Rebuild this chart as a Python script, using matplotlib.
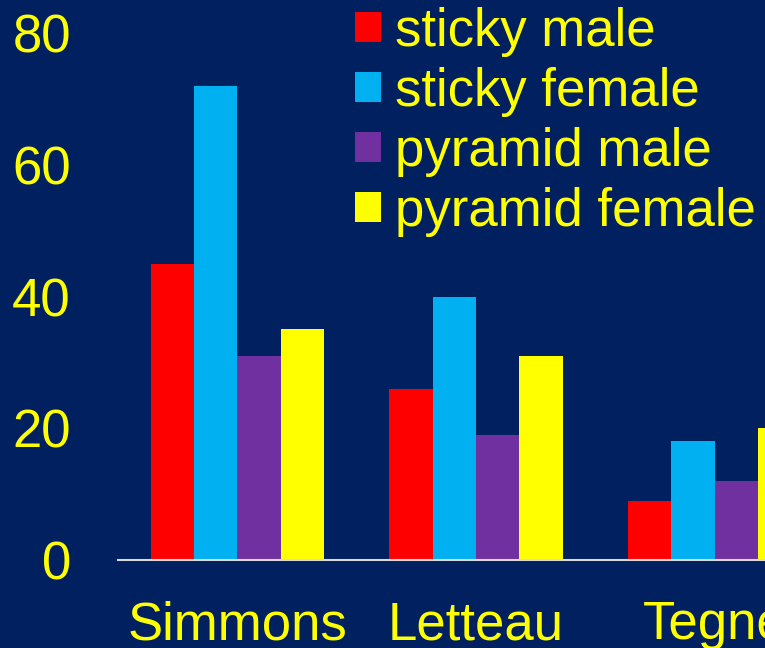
import numpy as np
import matplotlib
matplotlib.use("Agg")
import matplotlib.pyplot as plt
from matplotlib.patches import Patch

# data
categories = ["Simmons", "Letteau", "Tegne"]
series = ["sticky male", "sticky female", "pyramid male", "pyramid female"]
sticky_male = [45, 26, 9]
sticky_female = [72, 40, 18]
pyramid_male = [31, 19, 12]
pyramid_female = [35, 31, 20]
y_ticks = [0, 20, 40, 60, 80]

colors = ["#FF0000", "#00B0F0", "#7030A0", "#FFFF00"]
bg = "#00205F"
txt = "#FFFF00"

plt.rcParams['font.family'] = ['Liberation Sans', 'DejaVu Sans']

fig = plt.figure(figsize=(7.65, 6.48), dpi=100, facecolor=bg)
ax = fig.add_axes([118 / 765, 88 / 648, 647 / 765, 527 / 648], facecolor=bg)

x = np.arange(len(categories))
w = 0.1816
values = [sticky_male, sticky_female, pyramid_male, pyramid_female]
for j, (vals, c) in enumerate(zip(values, colors)):
    ax.bar(x + (j - 1.5) * w, vals, w, color=c, linewidth=0)

ax.set_xlim(-0.5, 2.211)
ax.set_ylim(0, 80)
ax.set_yticks(y_ticks)
ax.set_xticks(x)
ax.set_xticklabels(categories)
ax.tick_params(axis='y', length=0, pad=34, labelsize=38, labelcolor=txt)
ax.tick_params(axis='x', length=0, pad=29, labelsize=38, labelcolor=txt)

for s in ['top', 'right', 'left']:
    ax.spines[s].set_visible(False)
ax.spines['bottom'].set_color("#D9D9D9")
ax.spines['bottom'].set_linewidth(1.5)

handles = [Patch(facecolor=c, edgecolor='none') for c in colors]
leg = ax.legend(handles, series, loc='upper left',
                bbox_to_anchor=(355 / 765, 1 - 7 / 648), bbox_transform=fig.transFigure,
                frameon=False, fontsize=38, handlelength=0.5, handleheight=0.5,
                handletextpad=0.25, labelspacing=0.19, borderpad=0, borderaxespad=0)
for t in leg.get_texts():
    t.set_color(txt)

fig.savefig("out.png", dpi=100, facecolor=bg)
